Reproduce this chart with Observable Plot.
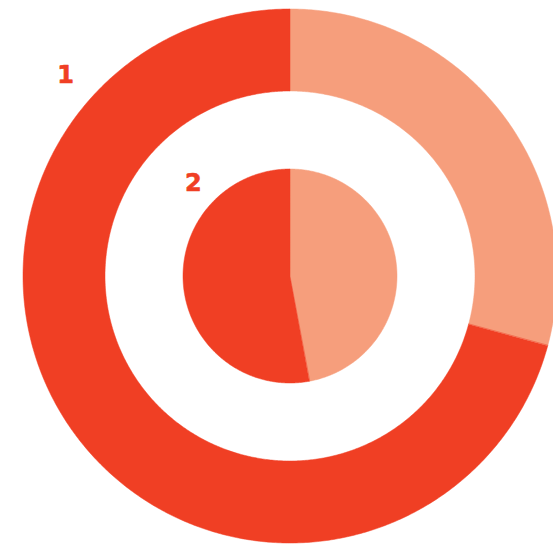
<!DOCTYPE html>
<html>
<head>
<meta charset="utf-8">
<script src="https://cdn.jsdelivr.net/npm/d3@7"></script>
<script src="https://cdn.jsdelivr.net/npm/@observablehq/plot@0.6"></script>
<style>
  html, body { margin: 0; padding: 0; background: #fff; }
  #chart svg { display: block; }
</style>
</head>
<body>
<div id="chart"></div>
<script>
// ---- data ----
const ringLabels = ["1", "2"];
const sliceNames = ["B", "A"];            // light slice first (clockwise from 12 o'clock)
const ring1Values = [29.2, 70.8];
const ring2Values = [47.1, 52.9];
const sliceColors = ["#f69e7c", "#f03f24"];

// ---- geometry (drawing constants) ----
const W = 553, H = 548;
const CX = 289.5, CY = 275.5;             // pixel centre
const rings = [
  {label: ringLabels[0], values: ring1Values, outer: 267, inner: 185, labelGap: 34, labelDeg: -48.2},
  {label: ringLabels[1], values: ring2Values, outer: 107, inner: 0, labelGap: 27, labelDeg: -46.2}
];

const pie = d3.pie().sort(null).value(d => d);
const pts = [];
rings.forEach((ring, ri) => {
  pie(ring.values).forEach((arc, si) => {
    const key = `${ri}-${si}`;
    const n = Math.max(8, Math.ceil((arc.endAngle - arc.startAngle) / (Math.PI / 360)));
    for (let k = 0; k <= n; k++) {
      const a = arc.startAngle + (arc.endAngle - arc.startAngle) * k / n;
      pts.push({key, color: sliceColors[si], x: ring.outer * Math.sin(a), y: ring.outer * Math.cos(a)});
    }
    if (ring.inner > 0) {
      for (let k = n; k >= 0; k--) {
        const a = arc.startAngle + (arc.endAngle - arc.startAngle) * k / n;
        pts.push({key, color: sliceColors[si], x: ring.inner * Math.sin(a), y: ring.inner * Math.cos(a)});
      }
    } else {
      pts.push({key, color: sliceColors[si], x: 0, y: 0});
    }
  });
});

const labels = rings.map(r => {
  const a = r.labelDeg * Math.PI / 180;
  return {text: r.label, x: (r.outer + r.labelGap) * Math.sin(a), y: (r.outer + r.labelGap) * Math.cos(a)};
});

const chart = Plot.plot({
  width: W,
  height: H,
  margin: 0,
  x: {domain: [-CX, W - CX], axis: null},
  y: {domain: [-(H - CY), CY], axis: null},
  marks: [
    Plot.line(pts, {x: "x", y: "y", z: "key", fill: "color", stroke: "color", strokeWidth: 0.5, curve: "linear-closed"}),
    Plot.text(labels, {x: "x", y: "y", text: "text", fill: sliceColors[1], fontSize: 24, fontWeight: "bold",
      stroke: sliceColors[1], strokeWidth: 0.6,
      fontFamily: "DejaVu Sans, Liberation Sans, sans-serif"})
  ]
});
document.getElementById("chart").appendChild(chart);
</script>
</body>
</html>
